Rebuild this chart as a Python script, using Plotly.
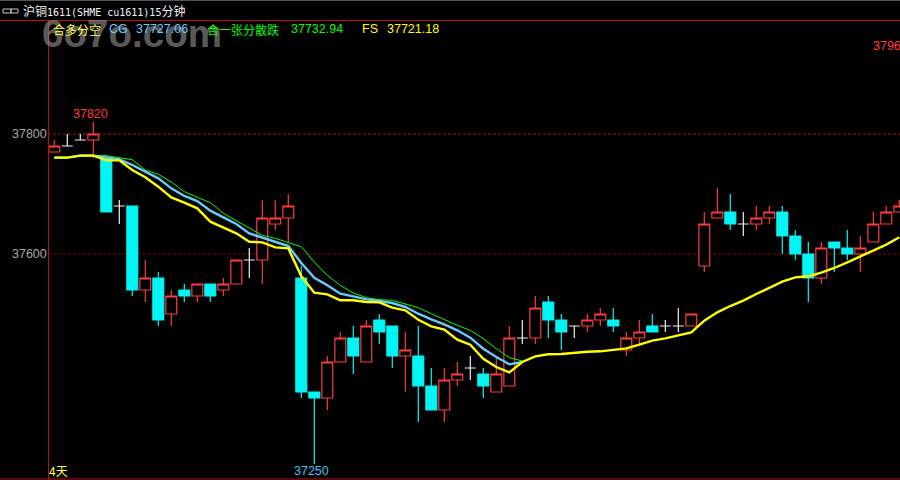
import plotly.graph_objects as go

# Candle data: index, open, high, low, close
idx = list(range(66))
opens = [37770,37780,37790,37790,37760,37680,37680,37540,37560,37500,37540,37530,37550,37540,37550,37590,37590,37650,37660,
 37560,37370,37360,37420,37460,37420,37490,37480,37430,37430,37380,37340,37390,37410,37400,37370,37380,37460,37460,37520,37490,
 37480,37480,37490,37490,37440,37460,37480,37480,37480,37480,37580,37660,37670,37650,37650,37660,37670,37630,37600,37560,37620,37610,37600,37620,37650,37670]
highs = [37790,37800,37800,37820,37760,37690,37680,37590,37570,37540,37550,37550,37550,37560,37590,37610,37690,37690,37700,
 37580,37370,37430,37470,37480,37490,37500,37480,37470,37480,37410,37410,37420,37430,37410,37430,37480,37490,37530,37530,37500,
 37480,37500,37510,37510,37470,37490,37500,37490,37510,37500,37670,37710,37700,37670,37680,37680,37680,37640,37620,37620,37620,37640,37630,37670,37680,37690]
lows = [37770,37780,37790,37760,37670,37650,37530,37520,37480,37480,37520,37520,37520,37530,37550,37560,37550,37640,37620,
 37360,37250,37340,37420,37400,37420,37450,37410,37370,37320,37340,37320,37380,37390,37360,37370,37380,37450,37450,37460,37440,
 37460,37470,37480,37470,37430,37450,37470,37470,37470,37480,37570,37660,37640,37630,37640,37650,37600,37590,37520,37550,37570,37590,37570,37620,37650,37670]
closes = [37780,37780,37790,37800,37670,37680,37540,37560,37490,37530,37530,37550,37530,37550,37590,37590,37660,37660,37680,
 37370,37360,37420,37460,37430,37480,37470,37430,37440,37380,37340,37390,37400,37410,37380,37400,37460,37460,37510,37490,37470,
 37480,37490,37500,37480,37460,37470,37470,37480,37480,37500,37650,37670,37650,37650,37660,37670,37630,37600,37560,37610,37610,37600,37610,37650,37670,37680]

fs_line = [37760.6,37760.6,37763.9,37763.9,37756.1,37756.1,37740,37727.8,37712.2,37694.4,37685.6,37676.1,37653.9,37643.9,37634.4,37620.5,37619.4,37611.1,37609.4,
 37562.8,37535.5,37532.8,37522.8,37522.8,37520,37519.4,37510.5,37506.1,37490.5,37479.4,37473.9,37457.2,37448.9,37425.5,37411.6,37402.8,37420,37429.4,37432.8,
 37433.3,37435.6,37437.2,37437.8,37440.6,37442.8,37448.9,37455.6,37459.4,37463.9,37469.4,37488.9,37502.8,37513.3,37522.2,37533.3,37543.3,37553.9,37561.1,37562.8,37568.9,37576.7,37586.1,37595.6,37605.6,37615.6,37627.8]
cg_line = [37760.6,37760.6,37763.9,37763.9,37761.1,37757.8,37748.3,37737.2,37726.1,37709.4,37696.7,37688.3,37672.2,37661.1,37650,37634.4,37627.8,37620.5,37613.3,
 37585,37560.5,37547.8,37533.9,37529.4,37524.4,37521.7,37518.3,37511.7,37500.5,37491.1,37482.8,37472.8,37460.5,37442.2,37428.3,37416.1,37420]
green_line = [37760.6,37760.6,37763.9,37763.9,37763.9,37760.5,37757.2,37740,37732.8,37720,37703.9,37694.4,37685.6,37667.8,37655.5,37642.8,37631.1,37626.1,37619.4,
 37612.2,37586.7,37564.4,37547.8,37535,37527.2,37523.9,37522.8,37517.2,37510.5,37500.5,37490.5,37481.1,37472.8,37458.9,37442.2,37427.2,37421.7]

tick_vals = [37800, 37600]
tick_text = ["37800", "37600"]

RED = "#ff3b3b"
CYAN = "#00f5f5"
WHITE = "#f0f0f0"
CJK = "Noto Sans CJK SC"
NUM = "Liberation Sans"
PX = 0.6  # pixels per price unit

def sel(cond):
    ii = [i for i in idx if cond(i)]
    return dict(x=ii, open=[opens[i] for i in ii], high=[highs[i] for i in ii],
                low=[lows[i] for i in ii], close=[closes[i] for i in ii])

fig = go.Figure()
fig.add_trace(go.Candlestick(**sel(lambda i: closes[i] > opens[i]), whiskerwidth=0,
    increasing=dict(line=dict(color=RED, width=1.2), fillcolor="#000000"),
    decreasing=dict(line=dict(color=RED, width=1.2), fillcolor="#000000"), hoverinfo="skip"))
fig.add_trace(go.Candlestick(**sel(lambda i: closes[i] < opens[i]), whiskerwidth=0,
    increasing=dict(line=dict(color=CYAN, width=1.2), fillcolor=CYAN),
    decreasing=dict(line=dict(color=CYAN, width=1.2), fillcolor=CYAN), hoverinfo="skip"))
fig.add_trace(go.Candlestick(**sel(lambda i: closes[i] == opens[i]), whiskerwidth=0,
    increasing=dict(line=dict(color=WHITE, width=1.2), fillcolor=WHITE),
    decreasing=dict(line=dict(color=WHITE, width=1.2), fillcolor=WHITE), hoverinfo="skip"))
fig.add_trace(go.Scatter(x=idx[:len(green_line)], y=green_line, mode="lines", line=dict(color="#00ff00", width=1), hoverinfo="skip"))
fig.add_trace(go.Scatter(x=idx[:len(cg_line)], y=cg_line, mode="lines", line=dict(color="#66ccff", width=2.4), hoverinfo="skip"))
fig.add_trace(go.Scatter(x=idx, y=fs_line, mode="lines", line=dict(color="#ffff00", width=2.4), hoverinfo="skip"))

def label(x, y, text, color, size=12.5, font=NUM, anchor="left"):
    fig.add_annotation(xref="paper", yref="paper", x=x/900, y=1-y/480, text=text, showarrow=False,
                       xanchor=anchor, yanchor="middle", align="left",
                       font=dict(color=color, size=size, family=font),
                       borderpad=0, borderwidth=0)

label(42, 34, "<b>6o7o.com</b>", "rgba(150,150,150,0.6)", size=38.6, font="Liberation Sans")
label(23, 11, '<span style="font-size:12px">沪铜</span>1611(SHME cu1611)15<span style="font-size:12px">分钟</span>',
      "#f2f2f2", size=10, font="DejaVu Sans Mono, Noto Sans CJK SC")
label(53, 29, "合多分空", "#ffff44", size=12, font=CJK)
label(109, 29, "CG", "#66ccff")
label(136, 29, "37727.06", "#66ccff")
label(207, 29, "合一张分散跌", "#00ff00", size=12, font=CJK)
label(291, 29, "37732.94", "#00ff00")
label(362, 29, "FS", "#ffff00")
label(387, 29, "37721.18", "#ffff00")
label(73, 114, "37820", RED)
label(873, 46, "3796", RED)
label(294, 471, "37250", "#44c4ee")
label(49, 470, "4天", "#ffff44", size=12, font=CJK)
for v, t in zip(tick_vals, tick_text):
    label(12, 134 + (37800 - v) * PX, t, "#a8a8a8")

fig.add_shape(type="line", xref="paper", yref="y", x0=48/900, x1=1, y0=37800, y1=37800, line=dict(color="#b01010", width=1, dash="3px,2px"), layer="below")
fig.add_shape(type="line", xref="paper", yref="y", x0=48/900, x1=1, y0=37600, y1=37600, line=dict(color="#7a0808", width=1, dash="3px,2px"), layer="below")
fig.add_shape(type="line", xref="paper", yref="paper", x0=0, x1=1, y0=1-20.5/480, y1=1-20.5/480, line=dict(color="#b01010", width=1))
fig.add_shape(type="line", xref="paper", yref="paper", x0=48.5/900, x1=48.5/900, y0=0, y1=1-20.5/480, line=dict(color="#b01010", width=1))
fig.add_shape(type="line", xref="paper", yref="paper", x0=0, x1=1, y0=1/480, y1=1/480, line=dict(color="#b01010", width=1))
fig.add_shape(type="line", xref="paper", yref="paper", x0=0, x1=1, y0=1-0.5/480, y1=1-0.5/480, line=dict(color="#555555", width=1))
# link icon in the title bar
fig.add_shape(type="rect", xref="paper", yref="paper", x0=3/900, x1=11/900, y0=1-13/480, y1=1-9/480, line=dict(color="#c8c8c8", width=1))
fig.add_shape(type="rect", xref="paper", yref="paper", x0=11/900, x1=18/900, y0=1-13/480, y1=1-9/480, line=dict(color="#c8c8c8", width=1))

x0 = -54.3 / 13
fig.update_layout(
    width=900, height=480, autosize=False, margin=dict(l=0, r=0, t=0, b=0),
    paper_bgcolor="#000000", plot_bgcolor="#000000", showlegend=False, boxgap=0.16, boxgroupgap=0, boxmode="overlay",
    xaxis=dict(range=[x0, x0 + 900 / 13], visible=False, rangeslider=dict(visible=False), fixedrange=True),
    yaxis=dict(range=[37800 - 346 / PX, 37800 + 134 / PX], visible=False, fixedrange=True),
)
fig.write_html("out.html", config=dict(displayModeBar=False), post_script="document.body.style.margin='0';document.body.style.background='#000';")
